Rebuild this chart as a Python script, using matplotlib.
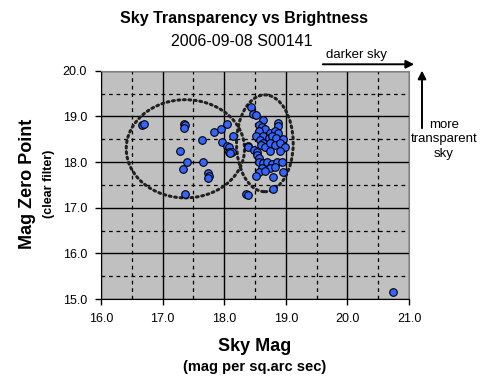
import matplotlib
matplotlib.use("Agg")
import matplotlib.pyplot as plt
from matplotlib.patches import Ellipse
from matplotlib.ticker import MultipleLocator

plt.rcParams['font.family'] = ['Liberation Sans', 'DejaVu Sans']

# sky brightness (mag / sq.arcsec) and zero point magnitude
sky_mag = [16.67, 16.70, 17.35, 17.37, 17.34, 17.83, 17.94, 18.05, 18.14,
           17.64, 17.96, 18.04, 18.08, 18.07, 18.13, 18.10, 17.29, 17.39,
           17.33, 17.65, 17.73, 17.75, 17.74, 17.36,
           18.38, 18.35, 18.38, 18.43, 18.46, 18.52, 18.63, 18.88, 18.87,
           18.56, 18.61, 18.66, 18.57, 18.74, 18.83, 18.88, 18.52, 18.63,
           18.72, 18.77, 18.84, 18.96, 18.58, 18.63, 18.59, 18.66, 18.74,
           18.83, 18.90, 18.99, 18.39, 18.48, 18.54, 18.53, 18.56, 18.74,
           18.90, 18.56, 18.63, 18.69, 18.77, 18.85, 18.93, 18.61, 18.74,
           18.83, 18.57, 18.66, 18.95, 18.52, 18.80, 18.80, 20.74]
zero_point = [18.81, 18.83, 18.83, 18.81, 18.74, 18.66, 18.73, 18.84, 18.56,
              18.48, 18.43, 18.36, 18.32, 18.23, 18.21, 18.19, 18.25, 17.99,
              17.85, 17.99, 17.75, 17.70, 17.65, 17.30,
              18.36, 17.30, 17.27, 19.20, 19.05, 19.04, 18.92, 18.85, 18.80,
              18.81, 18.76, 18.72, 18.67, 18.64, 18.69, 18.63, 18.56, 18.56,
              18.52, 18.56, 18.53, 18.50, 18.48, 18.42, 18.37, 18.34, 18.41,
              18.37, 18.41, 18.34, 18.34, 18.26, 18.23, 18.16, 18.08, 18.24,
              18.24, 18.01, 17.97, 18.01, 17.96, 17.99, 17.99, 17.86, 17.86,
              17.90, 17.79, 17.81, 17.79, 17.70, 17.67, 17.40, 15.15]

# cluster outlines (center, width, height)
clusters = [((17.37, 18.29), 1.92, 2.15), ((18.66, 18.41), 0.92, 2.12)]

fig = plt.figure(figsize=(4.89, 3.92), dpi=100)
ax = fig.add_axes([0.2065, 0.2372, 0.63, 0.5824])
ax.set_facecolor('#c0c0c0')

ax.xaxis.set_major_locator(MultipleLocator(1.0))
ax.xaxis.set_minor_locator(MultipleLocator(0.5))
ax.yaxis.set_major_locator(MultipleLocator(1.0))
ax.yaxis.set_minor_locator(MultipleLocator(0.5))
ax.grid(which='major', color='black', lw=1.0, ls='-')
ax.grid(which='minor', color='black', lw=0.9, ls=(0, (3, 3)))
ax.set_axisbelow(True)

for (cx, cy), w, h in clusters:
    ax.add_patch(Ellipse((cx, cy), w, h, fill=False, ec='#202020',
                         lw=2.2, ls=(0, (0.6, 1.2)), zorder=2,
                         capstyle='round'))

ax.scatter(sky_mag, zero_point, s=30, c='#3366ff', edgecolors='black',
           linewidths=0.8, zorder=3)

ax.set_xlim(16, 21)
ax.set_ylim(15, 20)
ax.set_xticks([16, 17, 18, 19, 20, 21])
ax.set_xticklabels(['16.0', '17.0', '18.0', '19.0', '20.0', '21.0'])
ax.set_yticks([15, 16, 17, 18, 19, 20])
ax.set_yticklabels(['15.0', '16.0', '17.0', '18.0', '19.0', '20.0'])
ax.tick_params(which='major', direction='out', length=4, width=1,
               labelsize=9, pad=6)
ax.tick_params(which='minor', length=0)
for s in ['left', 'bottom']:
    ax.spines[s].set_color('black')
for s in ['top', 'right']:
    ax.spines[s].set_color('#808080')

fig.text(0.498, 0.954, 'Sky Transparency vs Brightness', ha='center',
         va='center', fontsize=11.5, fontweight='bold')
fig.text(0.494, 0.893, '2006-09-08 S00141', ha='center', va='center',
         fontsize=11.5)

fig.text(0.521, 0.115, 'Sky Mag', ha='center', va='center', fontsize=13,
         fontweight='bold')
fig.text(0.521, 0.063, '(mag per sq.arc sec)', ha='center', va='center',
         fontsize=10.5, fontweight='bold')
fig.text(0.057, 0.532, 'Mag Zero Point', ha='center', va='center',
         rotation=90, fontsize=13, fontweight='bold')
fig.text(0.1, 0.532, '(clear filter)', ha='center', va='center',
         rotation=90, fontsize=9, fontweight='bold')

fig.text(0.729, 0.86, 'darker sky', ha='center', va='center', fontsize=9.5)
ax.annotate('', xy=(0.847, 0.836), xytext=(0.66, 0.836),
            xycoords='figure fraction',
            arrowprops=dict(arrowstyle='-|>', color='black', lw=1.4,
                            mutation_scale=12, shrinkA=0, shrinkB=0))
ax.annotate('', xy=(0.863, 0.82), xytext=(0.863, 0.673),
            xycoords='figure fraction',
            arrowprops=dict(arrowstyle='-|>', color='black', lw=1.4,
                            mutation_scale=12, shrinkA=0, shrinkB=0))
fig.text(0.908, 0.697, 'more\ntransparent\nsky', ha='center', va='top',
         fontsize=9.5, linespacing=1.3)

fig.savefig('out.png', dpi=100)
